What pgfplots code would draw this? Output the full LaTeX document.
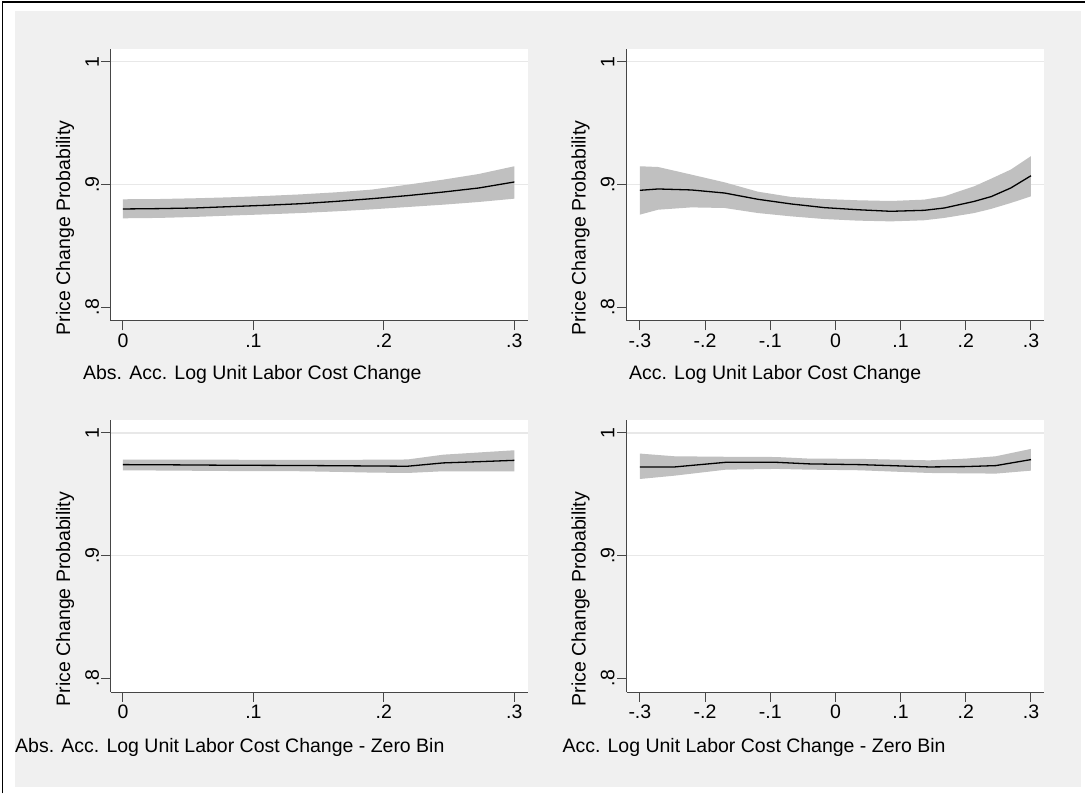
\documentclass[border=0pt]{standalone}
\usepackage{fontspec}
\setmainfont{Liberation Sans}
\usepackage{pgfplots}
\usepackage{pgfplotstable}
\pgfplotsset{compat=1.18}
\definecolor{bgcol}{RGB}{240,240,240}
\definecolor{bandcol}{RGB}{192,192,192}
\definecolor{gridcol}{RGB}{232,232,232}
\definecolor{axiscol}{RGB}{70,70,70}

% fitted line
\pgfplotstableread{
x mean
0.0000 0.8799
0.0273 0.8802
0.0545 0.8807
0.0818 0.8818
0.1091 0.8829
0.1364 0.8842
0.1636 0.8861
0.1909 0.8883
0.2182 0.8908
0.2455 0.8937
0.2727 0.8970
0.3000 0.9019
}\tabA
% confidence band: upper bound left to right, then lower bound right to left
\pgfplotstableread{
x y
0.0000 0.8878
0.0273 0.8880
0.0545 0.8886
0.0818 0.8894
0.1091 0.8905
0.1364 0.8918
0.1636 0.8935
0.1909 0.8957
0.2182 0.8997
0.2455 0.9038
0.2727 0.9084
0.3000 0.9147
0.3000 0.8883
0.2727 0.8856
0.2455 0.8834
0.2182 0.8815
0.1909 0.8796
0.1636 0.8780
0.1364 0.8766
0.1091 0.8755
0.0818 0.8745
0.0545 0.8734
0.0273 0.8726
0.0000 0.8723
}\bandA

\pgfplotstableread{
x mean
-0.300 0.8951
-0.272 0.8962
-0.221 0.8954
-0.170 0.8929
-0.119 0.8878
-0.068 0.8840
-0.017 0.8810
0.034 0.8793
0.085 0.8780
0.136 0.8788
0.167 0.8807
0.213 0.8861
0.239 0.8900
0.269 0.8970
0.300 0.9070
}\tabB
\pgfplotstableread{
x y
-0.300 0.9147
-0.272 0.9141
-0.221 0.9079
-0.170 0.9016
-0.119 0.8940
-0.068 0.8897
-0.017 0.8880
0.034 0.8870
0.085 0.8864
0.136 0.8875
0.167 0.8902
0.213 0.8984
0.239 0.9046
0.269 0.9120
0.300 0.9230
0.300 0.8902
0.269 0.8848
0.239 0.8800
0.213 0.8766
0.167 0.8726
0.136 0.8707
0.085 0.8698
0.034 0.8704
-0.017 0.8717
-0.068 0.8739
-0.119 0.8766
-0.170 0.8807
-0.221 0.8812
-0.272 0.8793
-0.300 0.8753
}\bandB

\pgfplotstableread{
x mean
0.0000 0.9741
0.0273 0.9740
0.0545 0.9738
0.0818 0.9736
0.1091 0.9735
0.1364 0.9734
0.1636 0.9732
0.1909 0.9730
0.2182 0.9728
0.2455 0.9755
0.2727 0.9765
0.3000 0.9776
}\tabC
\pgfplotstableread{
x y
0.0000 0.9782
0.0273 0.9782
0.0545 0.9781
0.0818 0.9781
0.1091 0.9780
0.1364 0.9780
0.1636 0.9780
0.1909 0.9781
0.2182 0.9783
0.2455 0.9822
0.2727 0.9840
0.3000 0.9858
0.3000 0.9687
0.2727 0.9687
0.2455 0.9687
0.2182 0.9673
0.1909 0.9676
0.1636 0.9682
0.1364 0.9687
0.1091 0.9688
0.0818 0.9689
0.0545 0.9691
0.0273 0.9693
0.0000 0.9695
}\bandC

\pgfplotstableread{
x mean
-0.300 0.9722
-0.247 0.9722
-0.168 0.9760
-0.091 0.9760
-0.040 0.9747
0.037 0.9741
0.090 0.9732
0.144 0.9722
0.200 0.9725
0.246 0.9733
0.300 0.9782
}\tabD
\pgfplotstableread{
x y
-0.300 0.9831
-0.247 0.9809
-0.168 0.9805
-0.091 0.9803
-0.040 0.9790
0.037 0.9788
0.090 0.9782
0.144 0.9776
0.200 0.9790
0.246 0.9809
0.300 0.9869
0.300 0.9692
0.246 0.9668
0.200 0.9670
0.144 0.9673
0.090 0.9684
0.037 0.9695
-0.040 0.9700
-0.091 0.9706
-0.168 0.9700
-0.247 0.9651
-0.300 0.9624
}\bandD

\pgfplotsset{
  stata/.style={
    scale only axis, height=272pt,
    ymin=0.7888, ymax=1.0103,
    ytick={0.9,1}, yticklabels={.9,1},
    ymajorgrids=true,
    extra y ticks={0.8}, extra y tick labels={.8},
    extra y tick style={grid=none},
    axis x line*=bottom, axis y line*=left,
    axis line style={-, draw=axiscol, line width=1pt},
    tick style={draw=axiscol, line width=1pt},
    tick align=outside, major tick length=9.5pt,
    axis background/.style={fill=white},
    grid style={draw=gridcol, line width=1.5pt},
    every tick label/.append style={font=\fontsize{19.5}{23}\selectfont, text=black},
    label style={font=\fontsize{19.5}{23}\selectfont, text=black, inner sep=0pt},
    yticklabel style={rotate=90, anchor=center, yshift=9.3pt},
    xticklabel style={anchor=center, yshift=-10.2pt},
    ylabel={Price Change Probability},
    ylabel style={at={(axis description cs:-0.110,0.342)}, anchor=center},
  },
  absx/.style={stata, width=417pt, xmin=-0.0092, xmax=0.3102,
    xtick={0,0.1,0.2,0.3}, xticklabels={0,.1,.2,.3}},
  accx/.style={stata, width=418pt, xmin=-0.3204, xmax=0.3204,
    xtick={-0.3,-0.2,-0.1,0,0.1,0.2,0.3}, xticklabels={-.3,-.2,-.1,0,.1,.2,.3}},
}

\newcommand{\band}[2]{%
  \addplot[fill=bandcol, draw=none] table[x=x, y=y] {#2} -- cycle;
  \addplot[black, line width=1.3pt, mark=none] table[x=x, y=mean] {#1};
}

\begin{document}
\begin{tikzpicture}
\fill[white] (0pt,0pt) rectangle (1086pt,794pt);
\fill[bgcol] (15pt,6.7pt) rectangle (1082pt,783pt);
\draw[black, line width=1.5pt] (2.5pt,0pt) -- (2.5pt,792pt) -- (1086pt,792pt);

\begin{axis}[absx, at={(111pt,473pt)}, anchor=south west,
  xlabel={Abs. Acc. Log Unit Labor Cost Change},
  xlabel style={at={(axis description cs:-0.0671,-0.1985)}, anchor=west}]
\band{\tabA}{\bandA}
\end{axis}

\begin{axis}[accx, at={(627pt,473pt)}, anchor=south west,
  xlabel={Acc. Log Unit Labor Cost Change},
  xlabel style={at={(axis description cs:0.0055,-0.1985)}, anchor=west}]
\band{\tabB}{\bandB}
\end{axis}

\begin{axis}[absx, at={(111pt,101.5pt)}, anchor=south west,
  xlabel={Abs. Acc. Log Unit Labor Cost Change - Zero Bin},
  xlabel style={at={(axis description cs:-0.2302,-0.203)}, anchor=west}]
\band{\tabC}{\bandC}
\end{axis}

\begin{axis}[accx, at={(627pt,101.5pt)}, anchor=south west,
  xlabel={Acc. Log Unit Labor Cost Change - Zero Bin},
  xlabel style={at={(axis description cs:-0.1538,-0.203)}, anchor=west}]
\band{\tabD}{\bandD}
\end{axis}
\end{tikzpicture}
\end{document}
